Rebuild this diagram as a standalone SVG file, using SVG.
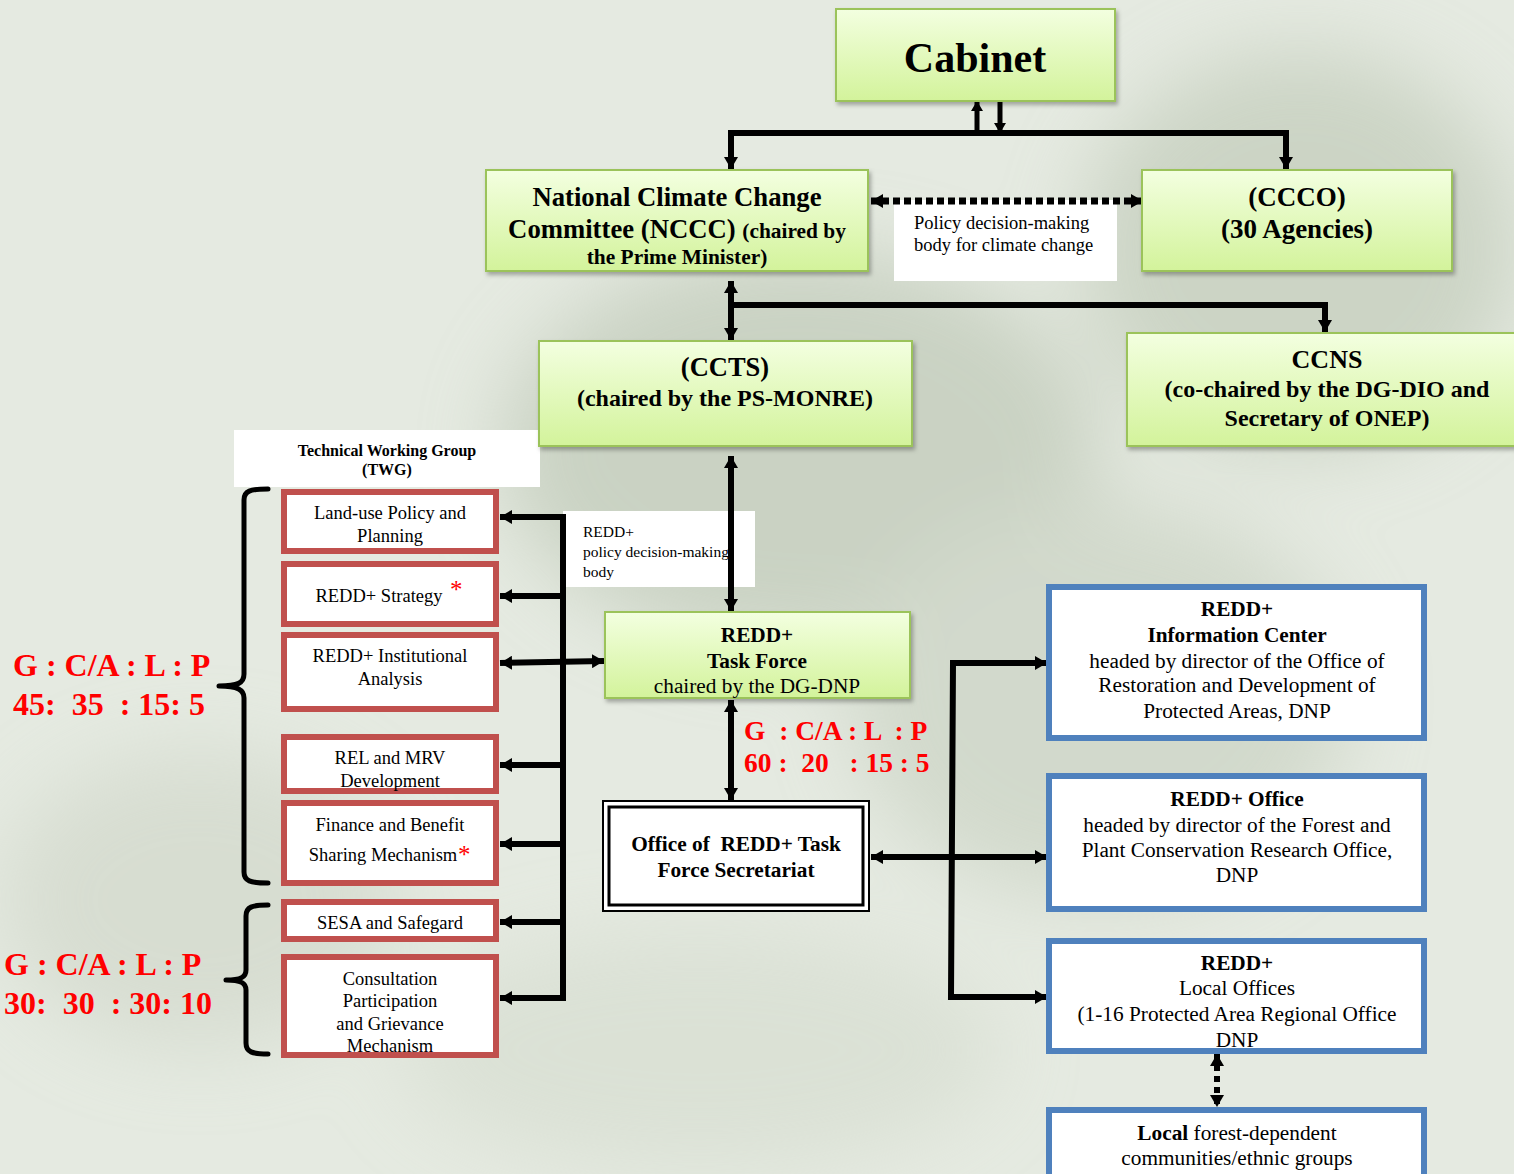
<svg xmlns="http://www.w3.org/2000/svg" width="1514" height="1174" viewBox="0 0 1514 1174">
<defs>
<linearGradient id="gg" x1="0" y1="0" x2="0" y2="1">
<stop offset="0" stop-color="#f3ffe0"/>
<stop offset="1" stop-color="#d3f39b"/>
</linearGradient>
<filter id="sh" x="-5%" y="-5%" width="115%" height="120%">
<feDropShadow dx="2" dy="3" stdDeviation="2" flood-color="#000" flood-opacity="0.3"/>
</filter>
<filter id="bl" x="-50%" y="-50%" width="200%" height="200%">
<feGaussianBlur stdDeviation="40"/>
</filter>
<marker id="ah" viewBox="0 0 12 14" refX="12" refY="7" markerWidth="12" markerHeight="14" markerUnits="userSpaceOnUse" orient="auto-start-reverse">
<path d="M0,0 L12,7 L0,14 z" fill="#000"/>
</marker>
<marker id="ahs" viewBox="0 0 10 12" refX="10" refY="6" markerWidth="10" markerHeight="12" markerUnits="userSpaceOnUse" orient="auto-start-reverse">
<path d="M0,0 L10,6 L0,12 z" fill="#000"/>
</marker>
<style>
.g{fill:url(#gg);stroke:#9bc35a;stroke-width:2;filter:url(#sh)}
.r{fill:#fff;stroke:#c0504d;stroke-width:6}
.b{fill:#fff;stroke:#4f81bd;stroke-width:6}
.w{fill:#fff}
text{font-family:"Liberation Serif","Times New Roman",serif;fill:#000;white-space:pre}
.c{text-anchor:middle}
.bd{font-weight:bold}
.red{fill:#ff0000;font-weight:bold}
.ast{fill:#ff0000}
.ln{fill:none;stroke:#000;stroke-width:6}
.lnh{fill:none;stroke:#000;stroke-width:6;marker-end:url(#ah)}
.lnd{fill:none;stroke:#000;stroke-width:6;marker-end:url(#ah);marker-start:url(#ah)}
.br{fill:none;stroke:#000;stroke-width:5;stroke-linecap:round;stroke-linejoin:round}
</style>
</defs>
<g id="background">
<rect width="1514" height="1174" fill="#e5eae1"/>
<g filter="url(#bl)" opacity="0.55">
<ellipse cx="800" cy="450" rx="300" ry="200" fill="#b4bfab"/>
<ellipse cx="1300" cy="250" rx="220" ry="200" fill="#b8c3af"/>
<ellipse cx="1100" cy="700" rx="250" ry="200" fill="#c3ccbb"/>
<ellipse cx="200" cy="900" rx="200" ry="150" fill="#ccd3c5"/>
<ellipse cx="700" cy="1050" rx="300" ry="120" fill="#d3dacc"/>
</g>
</g>

<g id="policy-label">
<rect class="w" x="894" y="200" width="223" height="81"/>
<text x="914" y="229" font-size="18.5">Policy decision-making</text>
<text x="914" y="251" font-size="18.5">body for climate change</text>
</g>

<g id="twg-label">
<rect class="w" x="234" y="430" width="306" height="57"/>
<text class="c bd" x="387" y="456" font-size="16">Technical Working Group</text>
<text class="c bd" x="387" y="475" font-size="16">(TWG)</text>
</g>

<g id="redd-policy-label">
<rect class="w" x="563" y="511" width="192" height="76"/>
<text x="583" y="537" font-size="15.5">REDD+</text>
<text x="583" y="557" font-size="15.5">policy decision-making</text>
<text x="583" y="577" font-size="15.5">body</text>
</g>

<g id="connectors">
<line x1="977" y1="133" x2="977" y2="101" stroke="#000" stroke-width="5" marker-end="url(#ahs)"/>
<line x1="1000" y1="101" x2="1000" y2="133" stroke="#000" stroke-width="5" marker-end="url(#ahs)"/>
<polyline class="ln" points="731,150 731,133 1286,133 1286,150"/>
<line class="lnh" x1="731" y1="140" x2="731" y2="169"/>
<line class="lnh" x1="1286" y1="140" x2="1286" y2="169"/>
<line x1="871" y1="201" x2="1143" y2="201" stroke="#000" stroke-width="7" stroke-dasharray="7,4" marker-start="url(#ah)" marker-end="url(#ah)"/>
<line class="lnd" x1="731" y1="281" x2="731" y2="340"/>
<polyline class="ln" points="731,305 1325,305 1325,318"/>
<line class="lnh" x1="1325" y1="310" x2="1325" y2="332"/>
<line class="lnd" x1="731" y1="456" x2="731" y2="611"/>
<line class="ln" x1="563" y1="514" x2="563" y2="1001"/>
<line class="lnh" x1="566" y1="517" x2="500" y2="517"/>
<line class="lnh" x1="566" y1="596" x2="500" y2="596"/>
<line class="lnd" x1="500" y1="663" x2="604" y2="661"/>
<line class="lnh" x1="566" y1="765" x2="500" y2="765"/>
<line class="lnh" x1="566" y1="844" x2="500" y2="844"/>
<line class="lnh" x1="566" y1="922" x2="500" y2="922"/>
<line class="lnh" x1="566" y1="998" x2="500" y2="998"/>
<line class="lnd" x1="731" y1="700" x2="731" y2="800"/>
<polyline class="ln" points="1030,663 953,663 951,997 1030,997"/>
<line class="lnh" x1="1020" y1="663" x2="1047" y2="663"/>
<line class="lnh" x1="1020" y1="997" x2="1047" y2="997"/>
<line class="lnd" x1="871" y1="857" x2="1047" y2="857"/>
<line x1="1217" y1="1054" x2="1217" y2="1107" stroke="#000" stroke-width="6" stroke-dasharray="6,5" marker-start="url(#ah)" marker-end="url(#ah)"/>
</g>

<g id="cabinet">
<rect class="g" x="836" y="9" width="279" height="92"/>
<text class="c bd" x="975" y="72" font-size="42">Cabinet</text>
</g>

<g id="nccc">
<rect class="g" x="486" y="170" width="382" height="101"/>
<text class="c bd" x="677" y="206" font-size="26.7">National Climate Change</text>
<text class="c bd" x="677" y="238"><tspan font-size="26.7">Committee (NCCC) </tspan><tspan font-size="21.4">(chaired by</tspan></text>
<text class="c bd" x="677" y="264" font-size="21.4">the Prime Minister)</text>
</g>

<g id="ccco">
<rect class="g" x="1142" y="170" width="310" height="101"/>
<text class="c bd" x="1297" y="206" font-size="27">(CCCO)</text>
<text class="c bd" x="1297" y="238" font-size="27">(30 Agencies)</text>
</g>

<g id="ccts">
<rect class="g" x="539" y="341" width="373" height="105"/>
<text class="c bd" x="725" y="376" font-size="26.5">(CCTS)</text>
<text class="c bd" x="725" y="406" font-size="24">(chaired by the PS-MONRE)</text>
</g>

<g id="ccns">
<rect class="g" x="1127" y="333" width="392" height="113"/>
<text class="c bd" x="1327" y="368" font-size="26">CCNS</text>
<text class="c bd" x="1327" y="397" font-size="24">(co-chaired by the DG-DIO and</text>
<text class="c bd" x="1327" y="426" font-size="24">Secretary of ONEP)</text>
</g>

<g id="twg-landuse">
<rect class="r" x="284" y="492" width="212" height="59"/>
<text class="c" x="390" y="519" font-size="18.5">Land-use Policy and</text>
<text class="c" x="390" y="542" font-size="18.5">Planning</text>
</g>
<g id="twg-strategy">
<rect class="r" x="284" y="564" width="212" height="60"/>
<text class="c" x="379" y="602" font-size="18.5">REDD+ Strategy</text>
<text class="ast" x="450" y="598" font-size="25">*</text>
</g>
<g id="twg-institutional">
<rect class="r" x="284" y="635" width="212" height="74"/>
<text class="c" x="390" y="662" font-size="18.5">REDD+ Institutional</text>
<text class="c" x="390" y="685" font-size="18.5">Analysis</text>
</g>
<g id="twg-rel">
<rect class="r" x="284" y="737" width="212" height="54"/>
<text class="c" x="390" y="764" font-size="18.5">REL and MRV</text>
<text class="c" x="390" y="787" font-size="18.5">Development</text>
</g>
<g id="twg-finance">
<rect class="r" x="284" y="803" width="212" height="80"/>
<text class="c" x="390" y="831" font-size="18.5">Finance and Benefit</text>
<text class="c" x="383" y="861" font-size="18.5">Sharing Mechanism</text>
<text class="ast" x="458" y="863" font-size="25">*</text>
</g>
<g id="twg-sesa">
<rect class="r" x="284" y="902" width="212" height="37"/>
<text class="c" x="390" y="929" font-size="18.5">SESA and Safegard</text>
</g>
<g id="twg-consultation">
<rect class="r" x="284" y="957" width="212" height="98"/>
<text class="c" x="390" y="985" font-size="18.5">Consultation</text>
<text class="c" x="390" y="1007" font-size="18.5">Participation</text>
<text class="c" x="390" y="1030" font-size="18.5">and Grievance</text>
<text class="c" x="390" y="1052" font-size="18.5">Mechanism</text>
</g>

<g id="brace1">
<path class="br" d="M268,489 C250,489 244,491 244,500 L244,674 C244,683 238,686 219,686 C238,686 244,690 244,698 L244,872 C244,881 250,883 268,883"/>
<text class="red" x="13" y="676" font-size="32">G : C/A : L : P</text>
<text class="red" x="13" y="715" font-size="32">45:  35  : 15: 5</text>
</g>
<g id="brace2">
<path class="br" d="M268,905 C252,905 246,907 246,916 L246,970 C246,977 241,980 226,980 C241,980 246,983 246,990 L246,1043 C246,1052 252,1054 268,1054"/>
<text class="red" x="4" y="975" font-size="32">G : C/A : L : P</text>
<text class="red" x="4" y="1014" font-size="32">30:  30  : 30: 10</text>
</g>

<g id="task-force">
<rect class="g" x="605" y="612" width="305" height="86"/>
<text class="c bd" x="757" y="642" font-size="21.3">REDD+</text>
<text class="c bd" x="757" y="668" font-size="21.3">Task Force</text>
<text class="c" x="757" y="693" font-size="21.3">chaired by the DG-DNP</text>
</g>

<g id="tf-ratio">
<text class="red" x="744" y="740" font-size="27.5">G  : C/A : L  : P</text>
<text class="red" x="744" y="772" font-size="27.5">60 :  20   : 15 : 5</text>
</g>

<g id="secretariat">
<rect x="603" y="801" width="266" height="110" fill="#fff" stroke="#000" stroke-width="2"/>
<rect x="609" y="807" width="254" height="98" fill="none" stroke="#000" stroke-width="3"/>
<text class="c bd" x="736" y="851" font-size="21.3">Office of  REDD+ Task</text>
<text class="c bd" x="736" y="877" font-size="21.3">Force Secretariat</text>
</g>

<g id="info-center">
<rect class="b" x="1049" y="587" width="375" height="151"/>
<text class="c bd" x="1237" y="616" font-size="21.3">REDD+</text>
<text class="c bd" x="1237" y="642" font-size="21.3">Information Center</text>
<text class="c" x="1237" y="668" font-size="21.3">headed by director of the Office of</text>
<text class="c" x="1237" y="692" font-size="21.3">Restoration and Development of</text>
<text class="c" x="1237" y="718" font-size="21.3">Protected Areas, DNP</text>
</g>

<g id="redd-office">
<rect class="b" x="1049" y="776" width="375" height="133"/>
<text class="c bd" x="1237" y="806" font-size="21.3">REDD+ Office</text>
<text class="c" x="1237" y="832" font-size="21.3">headed by director of the Forest and</text>
<text class="c" x="1237" y="857" font-size="21.3">Plant Conservation Research Office,</text>
<text class="c" x="1237" y="882" font-size="21.3">DNP</text>
</g>

<g id="local-offices">
<rect class="b" x="1049" y="941" width="375" height="110"/>
<text class="c bd" x="1237" y="970" font-size="21.3">REDD+</text>
<text class="c" x="1237" y="995" font-size="21.3">Local Offices</text>
<text class="c" x="1237" y="1021" font-size="21.3">(1-16 Protected Area Regional Office</text>
<text class="c" x="1237" y="1047" font-size="21.3">DNP</text>
</g>

<g id="communities">
<rect class="b" x="1049" y="1110" width="375" height="80"/>
<text class="c" x="1237" y="1140" font-size="21.3"><tspan font-weight="bold">Local</tspan> forest-dependent</text>
<text class="c" x="1237" y="1165" font-size="21.3">communities/ethnic groups</text>
</g>
</svg>
